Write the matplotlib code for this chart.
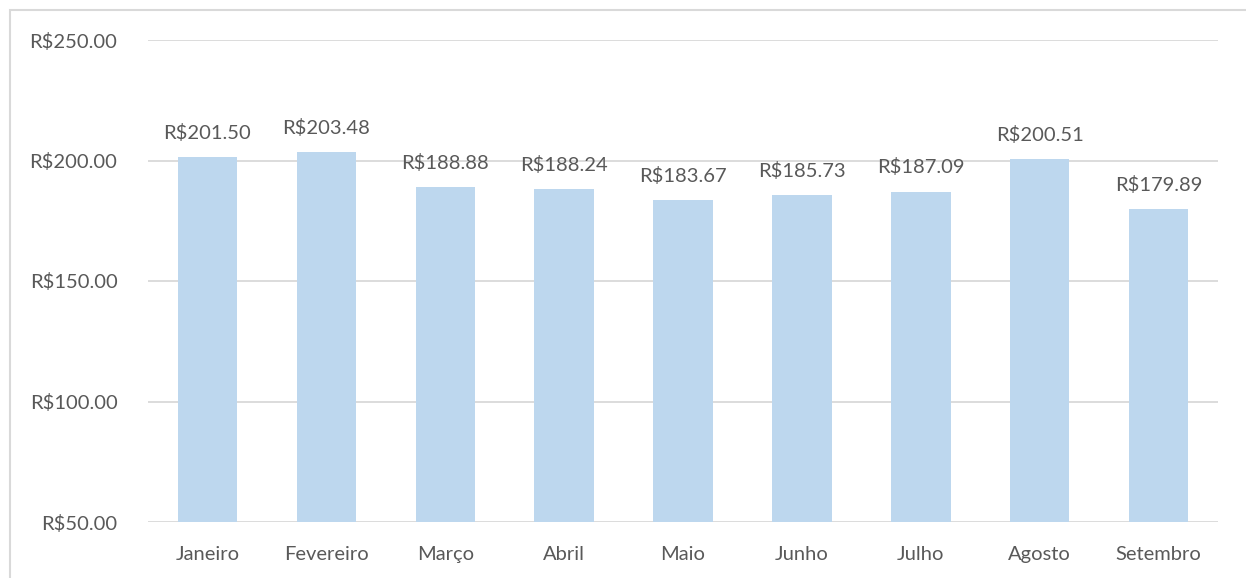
import matplotlib.pyplot as plt
from matplotlib.patches import Rectangle

meses = ["Janeiro", "Fevereiro", "Março", "Abril", "Maio", "Junho", "Julho", "Agosto", "Setembro"]
valores = [201.50, 203.48, 188.88, 188.24, 183.67, 185.73, 187.09, 200.51, 179.89]
yticks = [50, 100, 150, 200, 250]

plt.rcParams['font.family'] = ['Lato', 'DejaVu Sans']
txt = '#595959'
fs = 14.5

fig = plt.figure(figsize=(12.46, 5.78), dpi=100)
ax = fig.add_axes([148 / 1246, 1 - 522 / 578, 1070 / 1246, 482 / 578])

x = range(len(meses))
ax.bar(x, [v - 50 for v in valores], bottom=50, width=0.5, color='#BDD7EE', zorder=2)
for i, v in zip(x, valores):
    ax.annotate('R$%.2f' % v, (i, v), xytext=(0, 11), textcoords='offset points',
                ha='center', va='bottom', fontsize=fs, color=txt)

ax.set_xlim(-0.5, len(meses) - 0.5)
ax.set_ylim(50, 250)
ax.set_yticks(yticks)
ax.set_yticklabels(['R$%.2f' % t for t in yticks])
ax.set_xticks(list(x))
ax.set_xticklabels(meses)
ax.tick_params(length=0, labelsize=fs, labelcolor=txt)
ax.tick_params(axis='y', pad=22)
ax.tick_params(axis='x', pad=17)
ax.yaxis.grid(True, color='#D9D9D9', lw=1.3, zorder=0)
for s in ax.spines.values():
    s.set_visible(False)

fig.patches.append(Rectangle((10 / 1246, -0.1), 1.2, 1 - 10 / 578 + 0.1, transform=fig.transFigure,
                             fill=False, edgecolor='#D9D9D9', lw=1.5))

fig.savefig('out.png', dpi=100)
